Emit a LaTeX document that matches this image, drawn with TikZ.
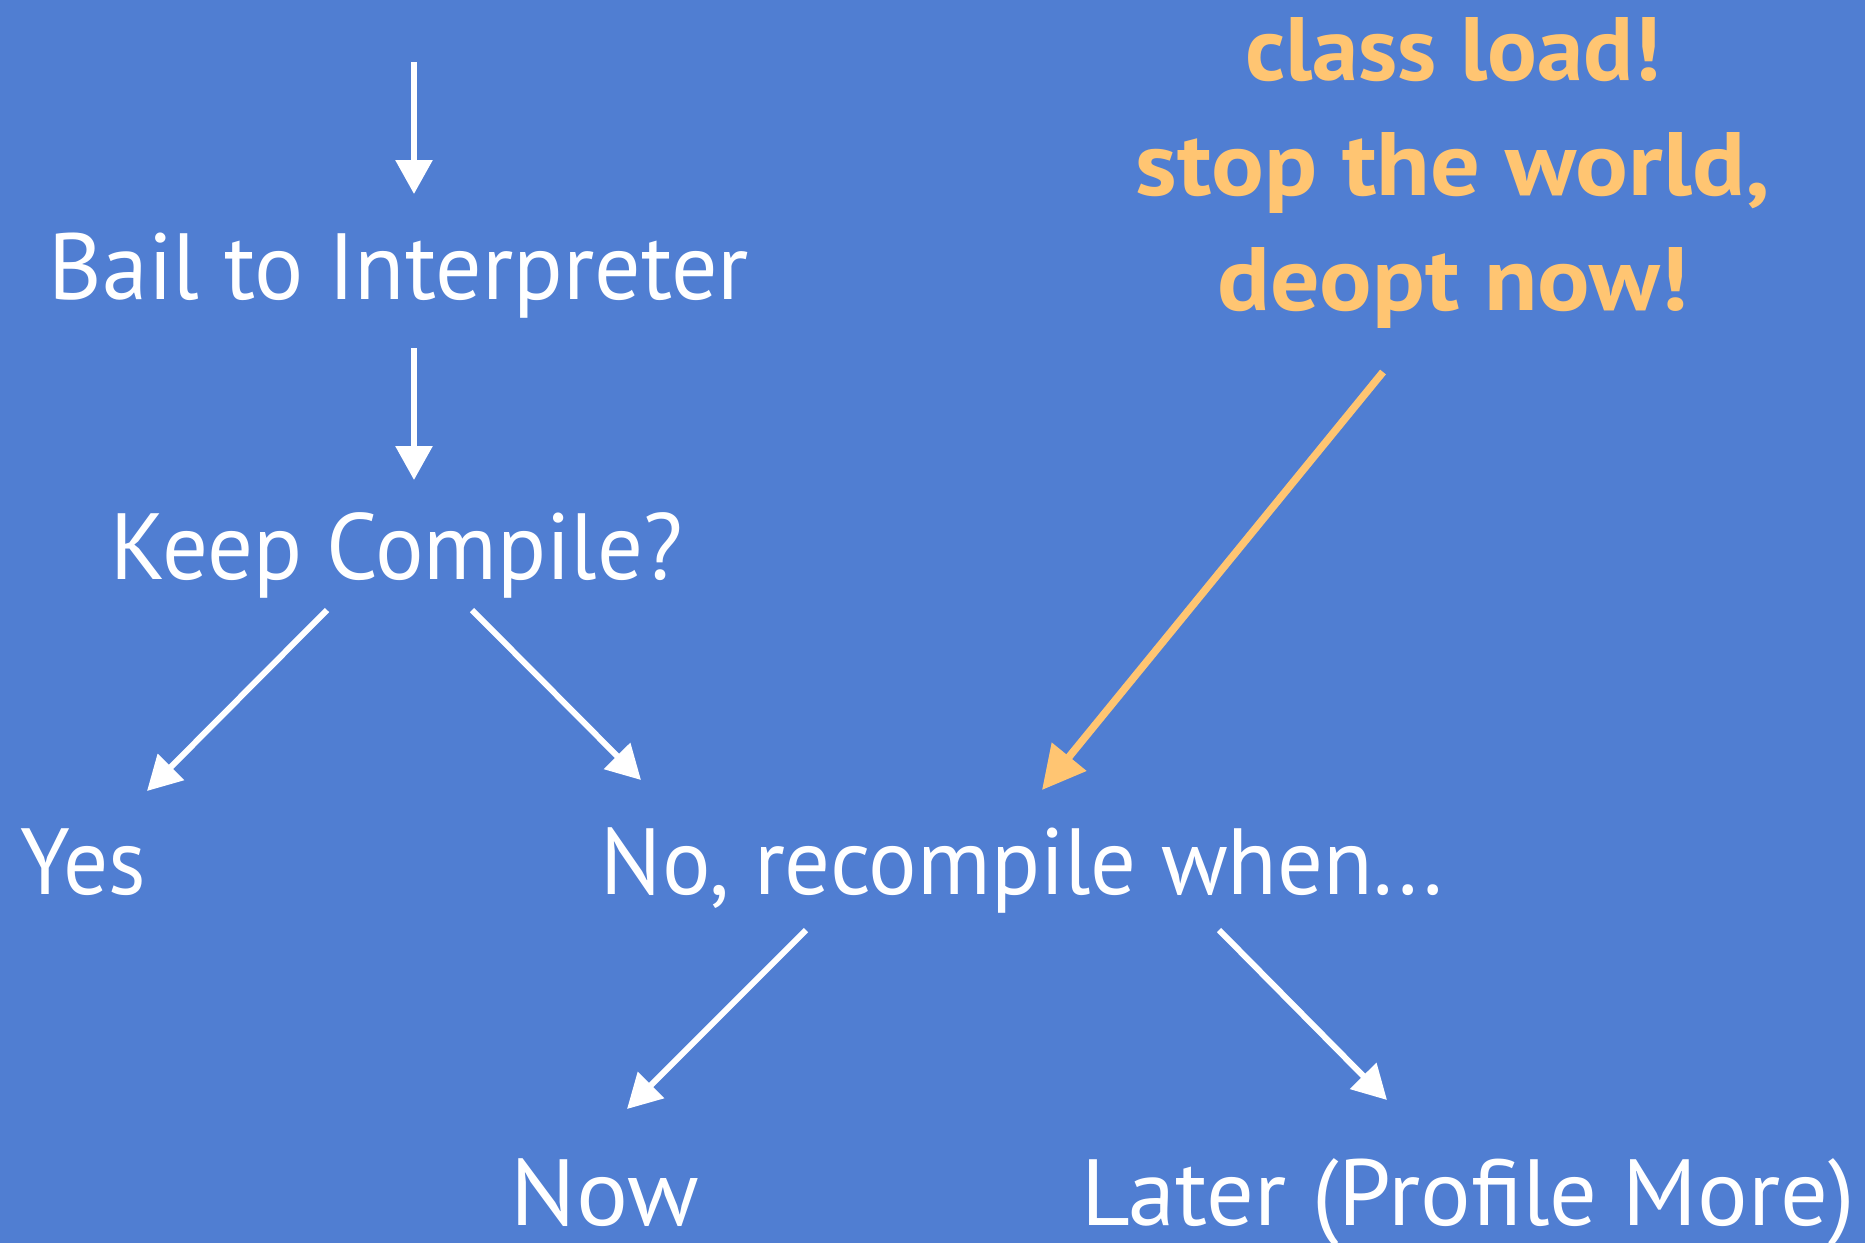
\documentclass[tikz,border=0pt]{standalone}
\usepackage{fontspec}
\usepackage{graphicx}
\setmainfont{PT Sans}
\usetikzlibrary{arrows.meta,calc}

\definecolor{slidebg}{RGB}{80,126,210}
\definecolor{warn}{RGB}{255,197,114}

% set a label to a given width, keeping its natural height
\newcommand{\fitto}[2]{\resizebox{#1}{\height}{#2}}

\tikzset{
  lbl/.style={anchor=base, inner sep=0pt, text=white, font=\fontsize{47pt}{50pt}\selectfont},
  hot/.style={anchor=base, inner sep=0pt, text=warn, font=\bfseries\fontsize{45pt}{50pt}\selectfont},
  flow/.style={draw=white, line width=3pt, -{Triangle[width=18pt,length=17pt]}},
  hotflow/.style={draw=warn, line width=3.75pt, -{Triangle[width=21.5pt,length=21.5pt]}},
}

\begin{document}
\begin{tikzpicture}[x=0.5pt, y=-0.5pt]
  \fill[slidebg] (0,0) rectangle (1865,1243);
  \useasboundingbox (0,0) rectangle (1865,1243);

  % labels
  \node[lbl] (bail)  at (399,299)    {\fitto{350pt}{Bail to Interpreter}};
  \node[lbl] (keep)  at (397,579)    {\fitto{286pt}{Keep Compile?}};
  \node[lbl] (yes)   at (83.5,894)   {\fitto{62.5pt}{Yes}};
  \node[lbl] (no)    at (1022,894)   {\fitto{421pt}{No, recompile when...}};
  \node[lbl] (now)   at (605,1225)   {\fitto{94pt}{Now}};
  \node[lbl] (later) at (1468.5,1225){\fitto{386.5pt}{Later (Profile More)}};

  \node[hot] (load)  at (1453,80)  {\fitto{208pt}{class load!}};
  \node[hot] (stop)  at (1453,195) {\fitto{317pt}{stop the world,}};
  \node[hot] (deopt) at (1453,310) {\fitto{235.5pt}{deopt now!}};

  \coordinate (entry) at (414,62);

  % connectors
  \draw[flow] (entry) -- ($(bail.base)+(15,-105)$);
  \draw[flow] ($(bail.base)+(15,49)$) -- ($(keep.base)+(17,-99)$);
  \draw[flow] ($(keep.base)+(-70,31)$) -- ($(yes.base)+(63.5,-103)$);
  \draw[flow] ($(keep.base)+(75,31)$) -- ($(no.base)+(-381,-114)$);
  \draw[flow] ($(no.base)+(-216,36)$) -- ($(now.base)+(22,-116)$);
  \draw[flow] ($(no.base)+(197,36)$) -- ($(later.base)+(-81.5,-125)$);
  \draw[hotflow] ($(deopt.base)+(-70,62)$) -- ($(no.base)+(20,-104)$);
\end{tikzpicture}
\end{document}
